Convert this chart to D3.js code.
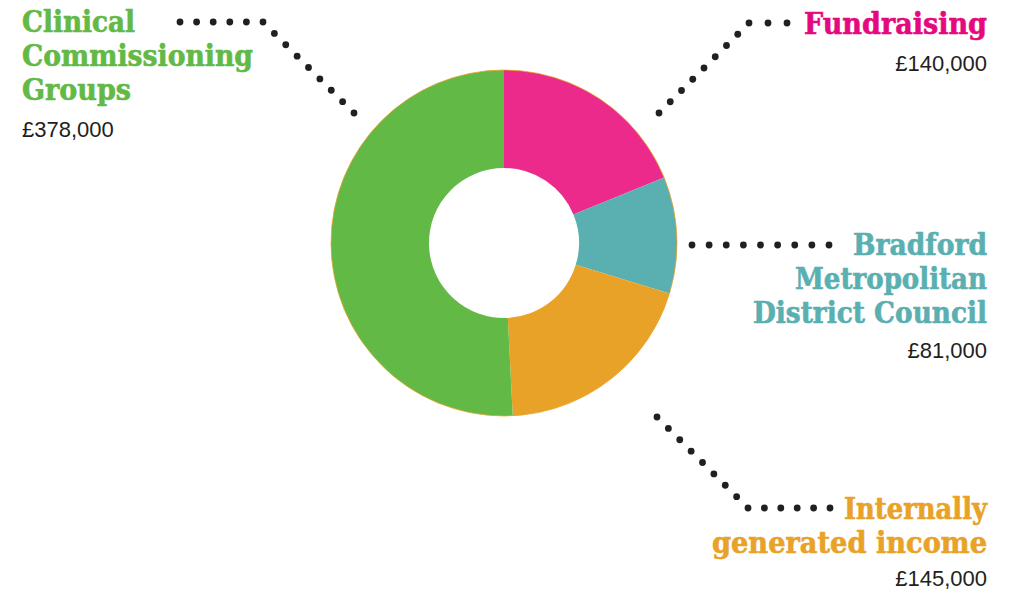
<!DOCTYPE html>
<html>
<head>
<meta charset="utf-8">
<script src="https://cdn.jsdelivr.net/npm/d3@7"></script>
<style>
  body { margin: 0; background: #fff; }
  .head { font-family: "DejaVu Serif Condensed", "DejaVu Serif", serif; font-weight: bold; }
  .amount { font-family: "Liberation Sans", Arial, sans-serif; fill: #231f20; }
</style>
</head>
<body>
<svg id="chart" width="1011" height="593"></svg>
<script>
// income sources, clockwise from 12 o'clock
var categories = ["Fundraising", "Bradford Metropolitan District Council", "Internally generated income", "Clinical Commissioning Groups"];
var amounts = [140000, 81000, 145000, 378000];
var amountLabels = ["£140,000", "£81,000", "£145,000", "£378,000"];
var colours = ["#ec2a8b", "#5aafb1", "#e9a228", "#62b946"];

// label placement (heading lines, widths, anchor, amount baseline) and dotted leaders
var labelLayout = [
  { lines: ["Fundraising"], widths: [183], x: 987, y: 34, amountY: 71, anchor: "end", text: "#e5097f",
    leader: [[787, 23], [749, 23], [659, 113]] },
  { lines: ["Bradford", "Metropolitan", "District Council"], widths: [134, 192, 234], x: 987, y: 255, amountY: 358, anchor: "end", text: "#5aafb1",
    leader: [[692, 245], [829, 245]] },
  { lines: ["Internally", "generated income"], widths: [143, 275], x: 987, y: 519, amountY: 586, anchor: "end", text: "#e9a228",
    leader: [[657, 417], [748, 508], [830, 508]] },
  { lines: ["Clinical", "Commissioning", "Groups"], widths: [113, 231, 109], x: 22, y: 32, amountY: 137, anchor: "start", text: "#62b946",
    leader: [[180, 22], [263, 22], [354, 113]] }
];

var svg = d3.select("#chart");
var cx = 504, cy = 243, outerR = 173, innerR = 75;

var pie = d3.pie().sort(null).value(function(d){ return d; });
var arc = d3.arc().innerRadius(innerR).outerRadius(outerR);

var g = svg.append("g").attr("transform", "translate(" + cx + "," + cy + ")");

g.selectAll("path")
  .data(pie(amounts))
  .enter()
  .append("path")
  .attr("d", arc)
  .attr("fill", function(d, i){ return colours[i]; });

// thin orange rim seen round the outside
g.append("circle")
  .attr("r", outerR)
  .attr("fill", "none")
  .attr("stroke", "#e9a228")
  .attr("stroke-width", 0.8);

// dots spaced evenly on each leg so one always sits on a corner
function leaderDots(pts){
  var out = [pts[0]];
  for (var k = 1; k < pts.length; k++){
    var a = pts[k-1], b = pts[k];
    var len = Math.hypot(b[0]-a[0], b[1]-a[1]);
    var n = Math.max(1, Math.round(len / 16.5));
    for (var s = 1; s <= n; s++){
      out.push([a[0] + (b[0]-a[0]) * s / n, a[1] + (b[1]-a[1]) * s / n]);
    }
  }
  return out;
}

var lineH = 34;

labelLayout.forEach(function(lab, i){
  svg.append("g").selectAll("circle")
    .data(leaderDots(lab.leader))
    .enter()
    .append("circle")
    .attr("cx", function(d){ return d[0]; })
    .attr("cy", function(d){ return d[1]; })
    .attr("r", 3.4)
    .attr("fill", "#231f20");

  lab.lines.forEach(function(t, j){
    svg.append("text")
      .attr("class", "head")
      .attr("x", lab.x)
      .attr("y", lab.y + j * lineH)
      .attr("text-anchor", lab.anchor)
      .attr("font-size", 30)
      .attr("fill", lab.text)
      .attr("stroke", lab.text)
      .attr("stroke-width", 0.6)
      .attr("textLength", lab.widths[j])
      .attr("lengthAdjust", "spacingAndGlyphs")
      .text(t);
  });

  svg.append("text")
    .attr("class", "amount")
    .attr("x", lab.x)
    .attr("y", lab.amountY)
    .attr("text-anchor", lab.anchor)
    .attr("font-size", 22)
    .text(amountLabels[i]);
});
</script>
</body>
</html>
